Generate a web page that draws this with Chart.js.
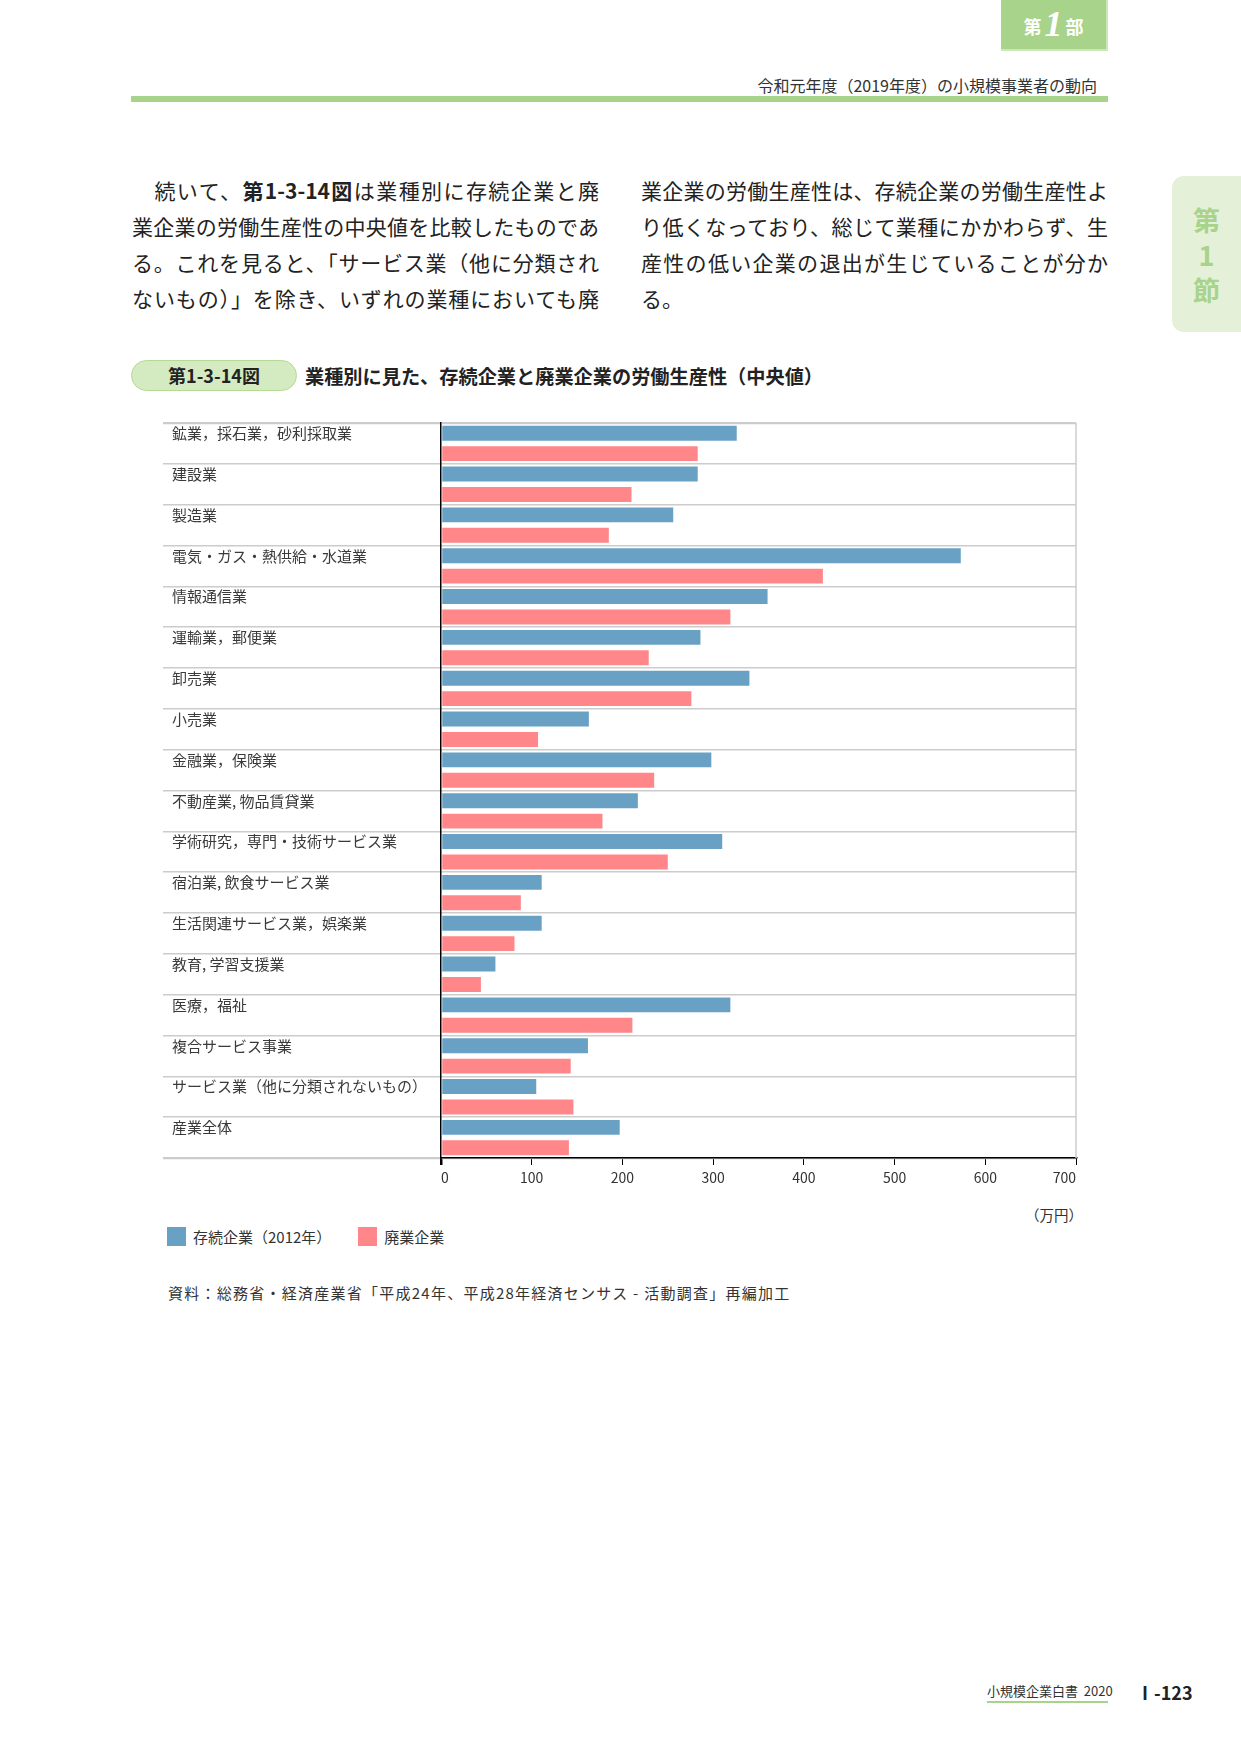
<!DOCTYPE html>
<html lang="ja">
<head>
<meta charset="utf-8">
<title>第1-3-14図 業種別に見た、存続企業と廃業企業の労働生産性（中央値）</title>
<script src="https://cdn.jsdelivr.net/npm/chart.js@4.4.1/dist/chart.umd.min.js"></script>
<style>
    body {
        margin: 0;
        width: 1241px;
        height: 1754px;
        position: relative;
        overflow: hidden;
        background: #fff;
        color: #333;
        font-family: "Noto Sans CJK JP", sans-serif;
    }
    .abs { position: absolute; }
    .part-tab {
        left: 1001px; top: 0; width: 105px; height: 49px;
        background: #a8d38a;
        border-right: 2px solid #cfe6bb;
        border-bottom: 2px solid #cfe6bb;
        color: #fff; font-weight: bold; text-align: center;
        line-height: 49px; font-size: 18px;
    }
    .part-tab .num {
        font-family: "Liberation Serif", serif;
        font-style: italic; font-size: 36px; vertical-align: -2px; margin: 0 3px;
    }
    .running-head {
        right: 144px; top: 73px; font-size: 16px; color: #333;
    }
    .head-rule {
        left: 131px; top: 96px; width: 977px; height: 6px; background: #a8d38a;
    }
    .side-tab {
        left: 1172px; top: 176px; width: 69px; height: 156px;
        background: #e4f1d8; border-radius: 12px 0 0 12px;
        color: #a8d38a; font-weight: bold; font-size: 27px;
        text-align: center; line-height: 35px; padding-top: 26px; box-sizing: border-box;
    }
    .body-col {
        top: 172px; width: 467px; font-size: 21px; line-height: 36px; color: #222;
    }
    .body-col div { text-align: justify; text-align-last: justify; white-space: nowrap; }
    .body-col div.last { text-align-last: left; }
    .fig-pill {
        left: 131px; top: 360px; width: 164px; height: 29px;
        background: #d4eac1; border: 1px solid #b3da96; border-radius: 16px;
        text-align: center; line-height: 29px; font-size: 18px; color: #222; font-weight: bold;
    }
    .fig-title {
        left: 305px; top: 363px; font-size: 19.2px; line-height: 26px; color: #222; font-weight: bold;
    }
    #chartCanvas { position: absolute; left: 150px; top: 400px; }
    .unit { right: 158px; top: 1204px; font-size: 14.5px; color: #333; }
    .legend { top: 1227px; font-size: 15px; color: #333; line-height: 19px; }
    .legend .box { display: inline-block; width: 19px; height: 19px; vertical-align: top; margin-right: 7px; }
    .source { left: 168px; top: 1282px; font-size: 15px; letter-spacing: 1.25px; color: #333; }
    .footer-book {
        left: 987px; top: 1681px; width: 121px; font-size: 13px; color: #333;
        border-bottom: 2px solid #a8d38a; padding-bottom: 1px; white-space: nowrap;
    }
    .footer-page { left: 1136px; top: 1679px; font-size: 18px; font-weight: bold; color: #222; }
</style>
</head>
<body>

<div class="abs part-tab">第<span class="num">1</span>部</div>
<div class="abs running-head">令和元年度（2019年度）の小規模事業者の動向</div>
<div class="abs head-rule"></div>
<div class="abs side-tab">第<br>1<br>節</div>

<div class="abs body-col" style="left:132px">
    <div>　続いて、<b>第1-3-14図</b>は業種別に存続企業と廃</div>
    <div>業企業の労働生産性の中央値を比較したものであ</div>
    <div>る。これを見ると、「サービス業（他に分類され</div>
    <div>ないもの）」を除き、いずれの業種においても廃</div>
</div>
<div class="abs body-col" style="left:641px">
    <div>業企業の労働生産性は、存続企業の労働生産性よ</div>
    <div>り低くなっており、総じて業種にかかわらず、生</div>
    <div>産性の低い企業の退出が生じていることが分か</div>
    <div class="last">る。</div>
</div>

<div class="abs fig-pill">第1-3-14図</div>
<div class="abs fig-title">業種別に見た、存続企業と廃業企業の労働生産性（中央値）</div>

<canvas id="chartCanvas" width="940" height="800"></canvas>

<div class="abs unit">（万円）</div>
<div class="abs legend" id="legend" style="left:167px"></div>
<div class="abs source">資料：総務省・経済産業省「平成24年、平成28年経済センサス - 活動調査」再編加工</div>

<div class="abs footer-book">小規模企業白書&nbsp; 2020</div>
<div class="abs footer-page">Ⅰ-123</div>

<script>
// industries, top to bottom
const industries = [
    '鉱業，採石業，砂利採取業',
    '建設業',
    '製造業',
    '電気・ガス・熱供給・水道業',
    '情報通信業',
    '運輸業，郵便業',
    '卸売業',
    '小売業',
    '金融業，保険業',
    '不動産業, 物品賃貸業',
    '学術研究，専門・技術サービス業',
    '宿泊業, 飲食サービス業',
    '生活関連サービス業，娯楽業',
    '教育, 学習支援業',
    '医療，福祉',
    '複合サービス事業',
    'サービス業（他に分類されないもの）',
    '産業全体'
];

// median labour productivity, 万円
const survivingValues = [326, 283, 256, 573, 360, 286, 340, 163, 298, 217, 310, 111, 111, 60, 319, 162, 105, 197];
const closedValues    = [283, 210, 185, 421, 319, 229, 276, 107, 235, 178, 250, 88, 81, 44, 211, 143, 146, 141];

const seriesNames = ['存続企業（2012年）', '廃業企業'];
const xTickValues = [0, 100, 200, 300, 400, 500, 600, 700];

const COLORS = ['#69a1c4', '#ff8789'];
const FONT = '"Noto Sans CJK JP", sans-serif';

// gray right-hand frame line of the plot area
const frameRight = {
    id: 'frameRight',
    beforeDatasetsDraw(chart) {
        const { ctx, chartArea } = chart;
        ctx.save();
        ctx.strokeStyle = '#cccccc';
        ctx.lineWidth = 1.5;
        ctx.beginPath();
        ctx.moveTo(chartArea.right, chartArea.top);
        ctx.lineTo(chartArea.right, chartArea.bottom);
        ctx.stroke();
        ctx.restore();
    }
};

function buildLegend() {
    const el = document.getElementById('legend');
    el.innerHTML = seriesNames.map((name, i) =>
        `<span style="display:inline-block;margin-right:${i === 0 ? 27 : 0}px">` +
        `<span class="box" style="background:${COLORS[i]}"></span>${name}</span>`
    ).join('');
}

function initChart() {
    const ctx = document.getElementById('chartCanvas').getContext('2d');
    return new Chart(ctx, {
        type: 'bar',
        data: {
            labels: industries,
            datasets: [{
                label: seriesNames[0],
                data: survivingValues,
                backgroundColor: COLORS[0],
                categoryPercentage: 1,
                barPercentage: 0.73
            }, {
                label: seriesNames[1],
                data: closedValues,
                backgroundColor: COLORS[1],
                categoryPercentage: 1,
                barPercentage: 0.73
            }]
        },
        options: {
            indexAxis: 'y',
            responsive: false,
            animation: false,
            devicePixelRatio: 1,
            layout: {
                padding: { left: 22, right: 14, top: 23, bottom: 0 }
            },
            plugins: {
                legend: { display: false },
                tooltip: { enabled: false }
            },
            scales: {
                x: {
                    min: xTickValues[0],
                    max: xTickValues[xTickValues.length - 1],
                    afterBuildTicks: scale => {
                        scale.ticks = xTickValues.map(v => ({ value: v }));
                    },
                    ticks: {
                        align: 'inner',
                        padding: 4,
                        color: '#333',
                        font: { family: FONT, size: 14 }
                    },
                    grid: {
                        drawOnChartArea: false,
                        drawTicks: true,
                        tickLength: 7,
                        color: '#000',
                        lineWidth: c => (c.index === 0 ? 2.5 : 1)
                    },
                    border: { color: '#000', width: 1.5 },
                    afterFit: scale => { scale.height = 42; }
                },
                y: {
                    ticks: {
                        autoSkip: false,
                        crossAlign: 'far',
                        labelOffset: -10,
                        color: '#3a3a3a',
                        font: { family: FONT, size: 15 }
                    },
                    grid: {
                        offset: true,
                        color: '#cccccc',
                        tickLength: 278,
                        lineWidth: c => (c.type !== 'tick' || c.index === 0 ? 2.2 : 1.4)
                    },
                    border: { color: '#000', width: 1.5 },
                    afterFit: scale => { scale.width = 269; }
                }
            }
        },
        plugins: [frameRight]
    });
}

buildLegend();
initChart();
</script>
</body>
</html>
